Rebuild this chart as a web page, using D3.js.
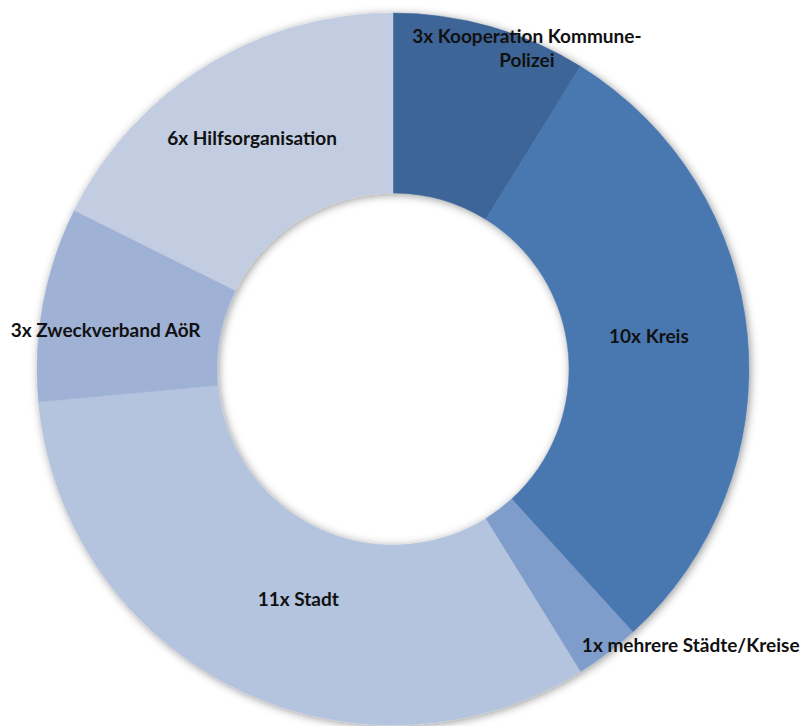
<!DOCTYPE html>
<html>
<head>
<meta charset="utf-8">
<script src="https://cdn.jsdelivr.net/npm/d3@7/dist/d3.min.js"></script>
<style>
  html, body { margin: 0; padding: 0; background: #fff; }
  svg { display: block; }
  text { font-family: Lato, "Open Sans", sans-serif; font-weight: bold; fill: #111; }
</style>
</head>
<body>
<svg id="chart" width="802" height="726"></svg>
<script>
// Organisation types and how often each occurs
const categories = [
  "Kooperation Kommune-Polizei",
  "Kreis",
  "mehrere Städte/Kreise",
  "Stadt",
  "Zweckverband AöR",
  "Hilfsorganisation"
];
const counts = [3, 10, 1, 11, 3, 6];
// label lines per slice (wrapped as displayed)
const labelLines = [
  ["3x Kooperation Kommune-", "Polizei"],
  ["10x Kreis"],
  ["1x mehrere Städte/Kreise"],
  ["11x Stadt"],
  ["3x Zweckverband AöR"],
  ["6x Hilfsorganisation"]
];

// presentation
const colors = ["#3c6597", "#4a78b0", "#7f9dcb", "#b4c3de", "#9fb2d6", "#c2cde2"];
// label placement: radius and angular nudge (degrees) relative to slice middle
const labelPlacement = [
  { r: 347, da: 6.8 },
  { r: 258, da: -2.0 },
  { r: 406, da: -10.1 },
  { r: 249, da: -4.1 },
  { r: 290, da: -2.9 },
  { r: 270, da: 0.3 }
];

const cx = 393, cy = 369, outerR = 356, innerR = 176;
const svg = d3.select("#chart");

const defs = svg.append("defs");
const f = defs.append("filter").attr("id", "shadow")
  .attr("x", "-10%").attr("y", "-10%").attr("width", "120%").attr("height", "120%");
f.append("feDropShadow").attr("dx", 1.5).attr("dy", 1.5)
  .attr("stdDeviation", 4).attr("flood-color", "#000").attr("flood-opacity", 0.4);

const data = categories.map((c, i) => ({ name: c, value: counts[i], lines: labelLines[i], idx: i }));
const pie = d3.pie().value(d => d.value).sort(null);
const arcs = pie(data);
const arc = d3.arc().innerRadius(innerR).outerRadius(outerR);

const g = svg.append("g").attr("transform", `translate(${cx},${cy})`);
g.append("g").attr("filter", "url(#shadow)")
  .selectAll("path").data(arcs).join("path")
  .attr("d", arc)
  .attr("fill", d => colors[d.data.idx])
  .attr("stroke", d => colors[d.data.idx])
  .attr("stroke-width", 0.5);

const labels = g.append("g").selectAll("text").data(arcs).join("text")
  .attr("text-anchor", "middle")
  .attr("font-size", 19)
  .attr("transform", d => {
    const p = labelPlacement[d.data.idx];
    const a = (d.startAngle + d.endAngle) / 2 + p.da * Math.PI / 180;
    return `translate(${p.r * Math.sin(a)},${-p.r * Math.cos(a)})`;
  });
labels.each(function(d) {
  const n = d.data.lines.length;
  const lh = 24;
  d3.select(this).selectAll("tspan").data(d.data.lines).join("tspan")
    .attr("x", 0)
    .attr("y", (l, i) => (i - (n - 1) / 2) * lh)
    .attr("dy", "0.35em")
    .text(l => l);
});
</script>
</body>
</html>
